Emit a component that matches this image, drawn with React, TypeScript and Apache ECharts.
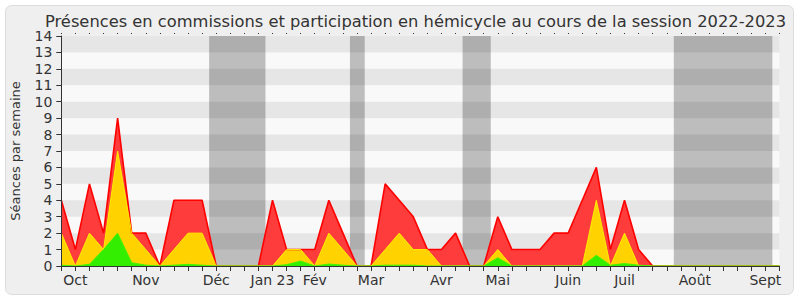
import React, { useEffect, useRef } from "react";
import * as echarts from "echarts";

const TITLE = "Présences en commissions et participation en hémicycle au cours de la session 2022-2023";
const Y_NAME = "Séances par semaine";

// weekly values, week index 0..51
const redValues = [4, 1, 5, 2, 9, 2, 2, 0, 4, 4, 4, 0, 0, 0, 0, 4, 1, 1, 1, 4, 2, 0, 0, 5, 4, 3, 1, 1, 2, 0, 0, 3, 1, 1, 1, 2, 2, 4, 6, 1, 4, 1, 0, 0, 0, 0, 0, 0, 0, 0, 0, 0];
const yellowValues = [2, 0, 2, 1, 7, 2, 1, 0, 1, 2, 2, 0, 0, 0, 0, 0, 1, 1, 0, 2, 1, 0, 0, 1, 2, 1, 1, 0, 0, 0, 0, 1, 0, 0, 0, 0, 0, 0, 4, 0, 2, 0, 0, 0, 0, 0, 0, 0, 0, 0, 0, 0];
const greenValues = [0.05, 0, 0.1, 1, 2, 0.2, 0.05, 0, 0.05, 0.1, 0.05, 0, 0, 0, 0, 0, 0.08, 0.3, 0, 0.12, 0.05, 0, 0, 0.05, 0.05, 0.05, 0, 0, 0, 0, 0, 0.5, 0, 0, 0, 0, 0, 0, 0.65, 0.05, 0.15, 0.05, 0, 0, 0, 0, 0, 0, 0, 0, 0, 0];

const monthWeeks = [1, 6, 11, 15, 18, 22, 27, 31, 36, 40, 45, 50];
const monthLabels = ["Oct", "Nov", "Déc", "Jan 23", "Fév", "Mar", "Avr", "Mai", "Juin", "Juil", "Août", "Sept"];

const vacationStarts = [10.5, 20.5, 28.5, 43.5];
const vacationEnds = [14.5, 21.55, 30.5, 50.5];

const stripeLows = [1, 3, 5, 7, 9, 11, 13];

const X_MAX = 51;
const Y_MAX = 14;

export default function App() {
  const ref = useRef<HTMLDivElement>(null);

  useEffect(() => {
    document.body.style.margin = "0";
    if (!ref.current) return;
    const chart = echarts.init(ref.current, undefined, { renderer: "svg" });
    const font = "DejaVu Sans";
    const labelMap: Record<number, string> = {};
    monthWeeks.forEach((w, i) => (labelMap[w] = monthLabels[i]));
    const toPairs = (arr: number[]) => arr.map((v, i) => [i, v]);

    chart.setOption({
      animation: false,
      backgroundColor: "#ffffff",
      textStyle: { fontFamily: font },
      title: {
        text: TITLE,
        left: 40,
        top: 8,
        textStyle: { fontFamily: font, fontSize: 16.3, fontWeight: "normal", color: "#333333" },
      },
      graphic: [
        {
          type: "rect",
          z: -10,
          silent: true,
          shape: { x: 5.5, y: 5.5, width: 788, height: 289, r: 6 },
          style: { fill: "#efefef", stroke: "#dcdcdc", lineWidth: 1 },
        },
      ],
      grid: {
        left: 61.3,
        right: 20.6,
        top: 36,
        bottom: 34,
        show: true,
        backgroundColor: "#f9f9f9",
        borderWidth: 0,
      },
      xAxis: [
        {
          type: "value",
          min: 0,
          max: X_MAX,
          interval: 1,
          z: 5,
          splitLine: { show: false },
          axisLine: { show: true, lineStyle: { color: "#333333", width: 1 } },
          axisTick: { show: true, length: 5, lineStyle: { color: "#333333" } },
          axisLabel: {
            show: true,
            margin: 7,
            fontSize: 14,
            color: "#333333",
            fontFamily: font,
            showMinLabel: true,
            showMaxLabel: true,
            formatter: (v: number) => labelMap[v] ?? "",
          },
        },
        {
          type: "value",
          position: "top",
          min: 0,
          max: X_MAX,
          interval: 1,
          offset: 2,
          splitLine: { show: false },
          axisLine: { show: false },
          axisTick: { show: true, length: 1, lineStyle: { color: "#333333" } },
          axisLabel: { show: false },
        },
      ],
      yAxis: {
        type: "value",
        min: 0,
        max: Y_MAX,
        interval: 1,
        z: 5,
        name: Y_NAME,
        nameLocation: "middle",
        nameGap: 39,
        nameTextStyle: { fontSize: 13, color: "#333333", fontFamily: font },
        splitLine: { show: false },
        axisLine: { show: true, lineStyle: { color: "#333333", width: 1 } },
        axisTick: { show: true, length: 5, lineStyle: { color: "#333333" } },
        axisLabel: { margin: 9, fontSize: 14, color: "#333333", fontFamily: font },
      },
      series: [
        {
          type: "line",
          data: [],
          silent: true,
          markArea: {
            silent: true,
            z: 1,
            itemStyle: { color: "#bdbdbd" },
            data: vacationStarts.map((s, i) => [{ xAxis: s }, { xAxis: vacationEnds[i] }]),
          },
        },
        {
          type: "line",
          data: [],
          silent: true,
          markArea: {
            silent: true,
            z: 1.5,
            itemStyle: { color: "rgba(0,0,0,0.075)" },
            data: stripeLows.map((lo) => [{ yAxis: lo }, { yAxis: lo + 1 }]),
          },
        },
        {
          name: "red",
          type: "line",
          z: 3,
          data: toPairs(redValues),
          symbol: "none",
          lineStyle: { color: "#ff0000", width: 1.6 },
          areaStyle: { color: "#ff3c3c", opacity: 1 },
        },
        {
          name: "yellow",
          type: "line",
          z: 3,
          data: toPairs(yellowValues),
          symbol: "none",
          lineStyle: { color: "#ffee00", width: 1 },
          areaStyle: { color: "#ffd200", opacity: 1 },
        },
        {
          name: "green",
          type: "line",
          z: 3,
          data: toPairs(greenValues),
          symbol: "none",
          lineStyle: { color: "#44f000", width: 1 },
          areaStyle: { color: "#33ee00", opacity: 1 },
        },
      ],
    });
    return () => chart.dispose();
  }, []);

  return <div ref={ref} style={{ width: 800, height: 300 }} />;
}
